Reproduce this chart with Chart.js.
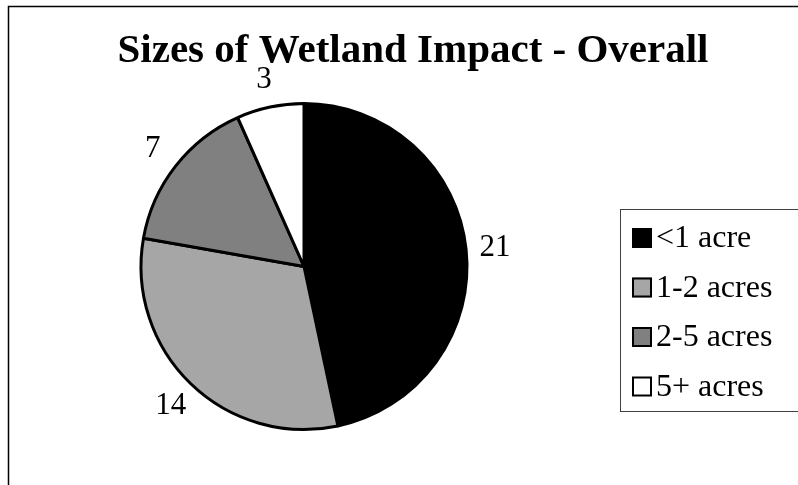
<!DOCTYPE html>
<html>
<head>
<meta charset="utf-8">
<script src="https://cdn.jsdelivr.net/npm/chart.js@4/dist/chart.umd.min.js"></script>
<style>
  html, body { margin: 0; padding: 0; background: #ffffff; }
  #wrap { width: 798px; height: 485px; }
</style>
</head>
<body>
<div id="wrap"><canvas id="myChart" width="798" height="485"></canvas></div>
<script>
// data
var categories = ["<1 acre", "1-2 acres", "2-5 acres", "5+ acres"];
var counts = [21, 14, 7, 3];
var sliceColors = ["#000000", "#a6a6a6", "#808080", "#ffffff"];
var chartTitle = "Sizes of Wetland Impact - Overall";

var serif = "'Liberation Serif', 'Times New Roman', serif";

// frame, title, value labels and legend box
var extras = {
  id: "extras",
  beforeDraw: function (chart) {
    var c = chart.ctx;
    c.save();
    c.fillStyle = "#ffffff";
    c.fillRect(0, 0, chart.width, chart.height);
    c.strokeStyle = "#000000";
    c.lineWidth = 1.5;
    c.beginPath();
    c.moveTo(8.5, chart.height + 2);
    c.lineTo(8.5, 6.5);
    c.lineTo(chart.width + 2, 6.5);
    c.stroke();
    c.restore();
  },
  afterDraw: function (chart) {
    var c = chart.ctx;
    c.save();
    // title
    c.fillStyle = "#000000";
    c.font = "bold 41px " + serif;
    c.textAlign = "center";
    c.textBaseline = "alphabetic";
    c.fillText(chartTitle, 413, 62);

    // value labels outside each slice
    var arcs = chart.getDatasetMeta(0).data;
    c.font = "31px " + serif;
    c.textBaseline = "middle";
    arcs.forEach(function (arc, i) {
      var mid = (arc.startAngle + arc.endAngle) / 2;
      var r = arc.outerRadius + 29;
      c.fillText(String(counts[i]), arc.x + Math.cos(mid) * r, arc.y + Math.sin(mid) * r + 1);
    });

    // legend
    c.strokeStyle = "#404040";
    c.lineWidth = 1;
    c.strokeRect(620.5, 209.5, 200, 202);
    c.font = "32px " + serif;
    c.textAlign = "left";
    c.textBaseline = "alphabetic";
    categories.forEach(function (name, i) {
      var base = 247 + i * 49.5;
      c.fillStyle = sliceColors[i];
      c.fillRect(632, base - 19, 20, 20);
      c.strokeStyle = "#000000";
      c.lineWidth = 2;
      c.strokeRect(633, base - 18, 18, 18);
      c.fillStyle = "#000000";
      c.fillText(name, 656, base);
    });
    c.restore();
  }
};

var ctx = document.getElementById("myChart").getContext("2d");
var myChart = new Chart(ctx, {
  type: "pie",
  data: {
    labels: categories,
    datasets: [
      {
        data: counts,
        backgroundColor: sliceColors,
        borderColor: "#000000",
        borderWidth: 3,
      },
    ],
  },
  options: {
    responsive: false,
    animation: false,
    events: [],
    layout: {
      padding: { left: 139, right: 329, top: 102, bottom: 54 },
    },
    plugins: {
      legend: { display: false },
      title: { display: false },
      tooltip: { enabled: false },
    },
  },
  plugins: [extras],
});
</script>
</body>
</html>
